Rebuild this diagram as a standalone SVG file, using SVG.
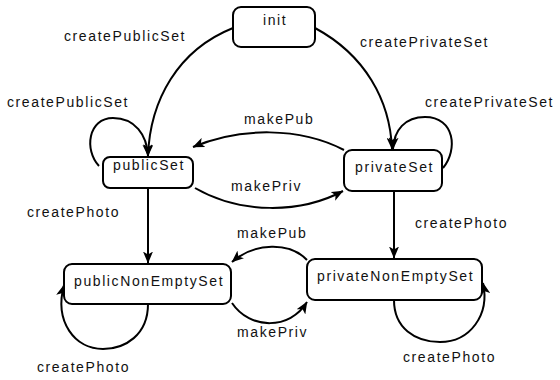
<svg xmlns="http://www.w3.org/2000/svg" width="560" height="380" viewBox="0 0 560 380">
<defs>
<marker id="arr" markerUnits="userSpaceOnUse" markerWidth="12" markerHeight="10" viewBox="0 0 12 10" refX="11.5" refY="5" orient="auto">
<path d="M0,0 L12,5 L0,10 L3,5 z" fill="#000"/>
</marker>
<style>
.node rect{fill:#fff;stroke:#000;stroke-width:2}
text{font-family:"Liberation Sans",Arial,Helvetica,sans-serif;font-size:14px;letter-spacing:1.6px;fill:#111}
.edges path{fill:none;stroke:#000;stroke-width:2;marker-end:url(#arr)}
</style>
</defs>
<rect width="560" height="380" fill="#fff"/>
<g class="edges" id="connectors">
<path d="M233,28 C178,50 150,100 148,156"/>
<path d="M315,28 C365,55 390,100 392,149"/>
<path d="M99,166 C84,150 88,118 113,118 C135,118 147,135 148,156"/>
<path d="M443,168 C458,150 455,117 425,117 C405,117 394,130 393,149"/>
<path d="M344,150 C300,127 240,127 193,147"/>
<path d="M195,188 C240,214 300,214 343,191"/>
<path d="M148,188 L148,263"/>
<path d="M394,191 L394,258"/>
<path d="M307,260 C290,242 255,242 232,262"/>
<path d="M232,303 C250,330 290,330 307,302"/>
<path d="M148,304 C148,335 125,349 103,349 C75,349 54,322 64,285"/>
<path d="M394,300 C394,328 415,342 440,342 C470,342 490,315 483,283"/>
</g>
<g id="init" class="node"><rect x="233" y="7" width="82" height="40" rx="8"/><text x="263" y="25">init</text></g>
<g id="publicSet" class="node"><rect x="103" y="157" width="90" height="31" rx="7"/><text x="113" y="170">publicSet</text></g>
<g id="privateSet" class="node"><rect x="344" y="150" width="98" height="41" rx="8"/><text x="355" y="172">privateSet</text></g>
<g id="publicNonEmptySet" class="node"><rect x="64" y="264" width="167" height="40" rx="8"/><text x="74" y="286">publicNonEmptySet</text></g>
<g id="privateNonEmptySet" class="node"><rect x="307" y="259" width="175" height="41" rx="8"/><text x="317" y="281">privateNonEmptySet</text></g>
<g id="labels">
<text x="64" y="41">createPublicSet</text>
<text x="360" y="47">createPrivateSet</text>
<text x="7" y="107">createPublicSet</text>
<text x="425" y="107">createPrivateSet</text>
<text x="244" y="124">makePub</text>
<text x="231" y="191">makePriv</text>
<text x="27" y="217">createPhoto</text>
<text x="415" y="228">createPhoto</text>
<text x="237" y="238">makePub</text>
<text x="237" y="337">makePriv</text>
<text x="37" y="372">createPhoto</text>
<text x="403" y="362">createPhoto</text>
</g>
</svg>
